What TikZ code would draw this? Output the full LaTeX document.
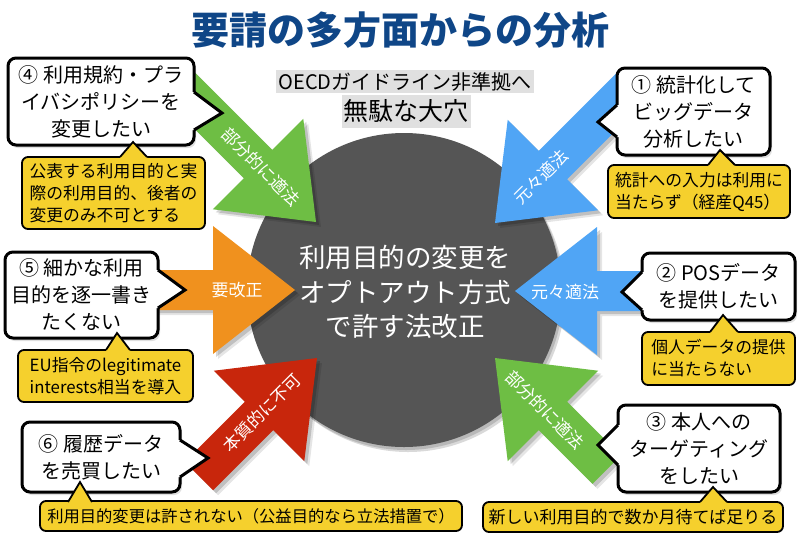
\documentclass[tikz,border=0pt]{standalone}
\usepackage{fontspec}
\setmainfont{Noto Sans CJK JP}
\usetikzlibrary{calc,shadows}
\definecolor{ttl}{RGB}{15,70,135}
\definecolor{agreen}{RGB}{110,190,68}
\definecolor{ablue}{RGB}{80,165,245}
\definecolor{aorange}{RGB}{240,145,30}
\definecolor{ared}{RGB}{200,38,12}
\definecolor{ylw}{RGB}{245,208,45}
\definecolor{cgray}{RGB}{85,85,85}
\definecolor{lgray}{RGB}{224,224,224}
\newcommand\bigarrow[4]{%
  \foreach \s/\o in {5/0.10,3/0.16}{%
    \begin{scope}[shift={($(#2)+(\s,\s)$)},rotate=#3]
      \fill[black,opacity=\o] (0,0) -- (-82,64) -- (-82,20) -- (-#4,20) -- (-#4,-20) -- (-82,-20) -- (-82,-64) -- cycle;
    \end{scope}}
  \begin{scope}[shift={(#2)},rotate=#3]
    \fill[#1] (0,0) -- (-82,64) -- (-82,20) -- (-#4,20) -- (-#4,-20) -- (-82,-20) -- (-82,-64) -- cycle;
  \end{scope}}
\newcommand\wtail[4]{%
  \fill[white] ($(#1)+(#4)$) -- (#1) -- (#2) -- (#3) -- ($(#3)+(#4)$) -- cycle;
  \draw[line width=3pt,line join=miter] (#1) -- (#2) -- (#3);}
\newcommand\ytail[4]{%
  \fill[ylw] ($(#1)+(#4)$) -- (#1) -- (#2) -- (#3) -- ($(#3)+(#4)$) -- cycle;
  \draw[line width=1.8pt,line join=miter] (#1) -- (#2) -- (#3);}
\tikzset{
  wbox/.style={draw=black, line width=3pt, fill=white, rounded corners=8pt, inner sep=0pt, outer sep=0pt, align=center,
    font=\fontsize{20}{27}\selectfont, drop shadow={shadow xshift=2pt,shadow yshift=-3pt,opacity=0.25}},
  ybox/.style={draw=black, line width=1.8pt, fill=ylw, rounded corners=6pt, inner sep=0pt, outer sep=0pt, align=left,
    font=\fontsize{16.8}{22}\selectfont},
  alabel/.style={text=white, inner sep=0pt, font=\fontsize{17}{20}\selectfont},
  glabel/.style={fill=lgray, inner xsep=2pt, inner ysep=0pt},
}
\begin{document}
\begin{tikzpicture}[x=1pt,y=-1pt]
\useasboundingbox (0,0) rectangle (800,542);
\fill[white] (0,0) rectangle (800,542);
% title
\node[text=ttl, font=\fontsize{38}{40}\selectfont\bfseries] (title) at (400,30) {要請の多方面からの分析};
% gray labels
\node[glabel, minimum height=23pt, font=\fontsize{20}{22}\selectfont] (lbA) at (405,81.5) {OECDガイドライン非準拠へ};
\node[glabel, minimum height=33pt, font=\fontsize{25}{27}\selectfont] (lbB) at (406,111.5) {無駄な大穴};
% circle
\fill[black,opacity=0.15] (408,295) circle (157);
\fill[black,opacity=0.15] (406,293) circle (157);
\fill[cgray] (404,290) circle (157);
\node[text=white, align=center, font=\fontsize{26.5}{34.5}\selectfont] (ctr) at (405,292) {利用目的の変更を\\オプトアウト方式\\で許す法改正};
% arrows
\bigarrow{agreen}{316,222}{-45}{205}
\bigarrow{ablue}{495,223}{-135}{198}
\bigarrow{aorange}{295,290}{0}{150}
\bigarrow{ablue}{515,291}{180}{160}
\bigarrow{ared}{317,358}{45}{167}
\bigarrow{agreen}{495,358}{135}{158}
\node[alabel, rotate=-45] (l4) at (261,167) {部分的に適法};
\node[alabel, rotate=45] (l1) at (541,177) {元々適法};
\node[alabel] (l5) at (237,290) {要改正};
\node[alabel] (l2) at (565,292) {元々適法};
\node[alabel, rotate=45] (l6) at (262,413) {本質的に不可};
\node[alabel, rotate=-45] (l3) at (545,410) {部分的に適法};
% white callouts
\node[wbox, minimum width=186pt, minimum height=87pt] (c4) at (101,101.5) {④ 利用規約・プラ\\イバシポリシーを\\変更したい};
\wtail{194,92}{222,113}{194,130}{-5,0}
\node[wbox, minimum width=153pt, minimum height=87pt] (c1) at (693.5,111.5) {① 統計化して\\ビッグデータ\\分析したい};
\wtail{617,105}{598,122}{617,137}{5,0}
\node[wbox, minimum width=153pt, minimum height=86pt] (c5) at (81.5,295) {⑤ 細かな利用\\目的を逐一書き\\たくない};
\wtail{158,270}{185,290}{158,308}{-5,0}
\node[wbox, minimum width=153pt, minimum height=67pt] (c2) at (718.5,286.5) {② POSデータ\\を提供したい};
\wtail{642,272}{622,292}{642,310}{5,0}
\node[wbox, minimum width=158pt, minimum height=70pt] (c6) at (101,457) {⑥ 履歴データ\\を売買したい};
\wtail{180,440}{208,458}{180,477}{-5,0}
\node[wbox, minimum width=162pt, minimum height=87pt] (c3) at (699,448.5) {③ 本人への\\ターゲティング\\をしたい};
\wtail{618,425}{598,445}{618,465}{5,0}
% yellow notes
\node[ybox, minimum width=183pt, minimum height=72pt] (y4) at (113.5,193) {公表する利用目的と実\\際の利用目的、後者の\\変更のみ不可とする};
\ytail{120,157}{133,142}{147,157}{0,4}
\node[ybox, minimum width=182pt, minimum height=53pt] (y1) at (699,191.5) {統計への入力は利用に\\当たらず（経産Q45）};
\ytail{708,165}{720,150}{735,165}{0,4}
\node[ybox, minimum width=175pt, minimum height=52pt] (y5) at (105.5,376) {EU指令のlegitimate\\interests相当を導入};
\ytail{106,350}{117,333}{130,350}{0,4}
\node[ybox, minimum width=153pt, minimum height=53pt] (y2) at (718.5,358.5) {個人データの提供\\に当たらない};
\ytail{710,332}{723,315}{738,332}{0,4}
\node[ybox, minimum width=422pt, minimum height=30pt, font=\fontsize{16.3}{20}\selectfont] (y6) at (251,516) {利用目的変更は許されない（公益目的なら立法措置で）};
\ytail{68,502}{80,482}{92,502}{0,4}
\node[ybox, minimum width=300pt, minimum height=30pt, font=\fontsize{17}{20}\selectfont] (y3) at (633,517) {新しい利用目的で数か月待てば足りる};
\ytail{700,502}{713,487}{727,502}{0,4}
\end{tikzpicture}
\end{document}
